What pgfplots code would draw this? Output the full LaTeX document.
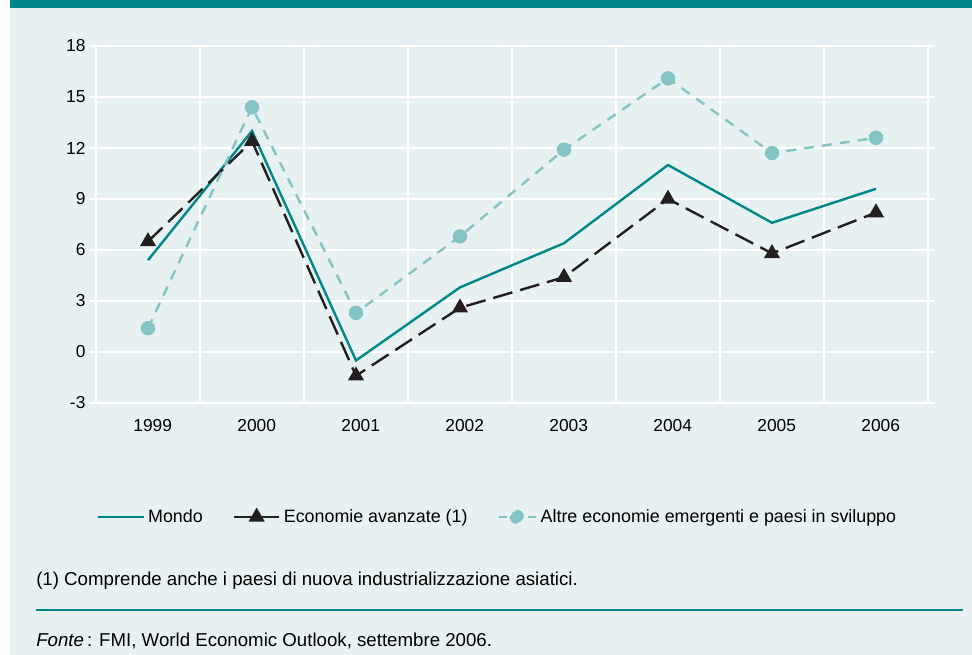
\documentclass[border=0pt]{standalone}
\usepackage{pgfplots}
\pgfplotsset{compat=1.18}
\usepackage{fontspec}
\setmainfont{Liberation Sans}

\definecolor{bgpanel}{RGB}{232,241,242}
\definecolor{tealdark}{RGB}{0,135,138}
\definecolor{teallight}{RGB}{132,196,196}
\definecolor{inkblack}{RGB}{35,31,32}

% data: x = position of the year (1999 at 0.5)
\pgfplotstableread{
x    mondo  avanz  altre
0.5  5.4    6.5    1.4
1.5  13.0   12.4   14.4
2.5  -0.5   -1.4   2.3
3.5  3.8    2.6    6.8
4.5  6.4    4.4    11.9
5.5  11.0   9.0    16.1
6.5  7.6    5.8    11.7
7.5  9.6    8.2    12.6
}\growth

\begin{document}
\fontsize{12.75}{15}\selectfont
\begin{tikzpicture}[x=0.75pt,y=0.75pt]
% page background
\fill[white] (0,0) rectangle (972,655);
\fill[bgpanel] (10,0) rectangle (972,647);
\fill[tealdark] (10,647) rectangle (972,655);

\begin{axis}[
    at={(72pt,189pt)}, anchor=south west,
    scale only axis,
    width=624pt, height=267.75pt,
    xmin=0, xmax=8,
    ymin=-3, ymax=18,
    xtick={0.5,1.5,...,7.5},
    xticklabels={1999,2000,2001,2002,2003,2004,2005,2006},
    minor xtick={1,...,7},
    ytick={-3,0,...,18},
    yticklabels={-3,0,3,6,9,12,15,18},
    xminorgrids, ymajorgrids,
    minor grid style={white, line width=0.8pt},
    major grid style={white, line width=0.8pt},
    axis line style={white, line width=1.2pt},
    axis background/.style={fill=none},
    tick align=outside,
    major tick length=4.5pt,
    minor tick length=0pt,
    xtick style={draw=none},
    ytick style={white, line width=0.8pt},
    xticklabel style={font=\fontsize{13}{15}\selectfont, yshift=-3pt, xshift=3.5pt},
    yticklabel style={font=\fontsize{13}{15}\selectfont, xshift=1pt},
    legend columns=3,
    legend style={at={(rel axis cs:0.001,-0.319)}, anchor=west,
        draw=none, fill=none, inner sep=0pt,
        font=\fontsize{13.4}{15}\selectfont,
        nodes={inner xsep=2.5pt},
        /tikz/every even column/.append style={column sep=20pt}},
    legend cell align=left,
    clip=false,
]
\addplot[tealdark, line width=1.8pt, no markers,
    legend image code/.code={\draw[tealdark, line width=1.8pt] (0pt,0pt) -- (34pt,0pt);}]
    table[x=x, y=mondo] {\growth};
\addlegendentry{Mondo}

\addplot[inkblack, line width=1.8pt, dash pattern=on 15pt off 6pt,
    mark=triangle*, mark size=5.2pt, mark options={solid, fill=inkblack},
    legend image code/.code={\draw[inkblack, line width=1.8pt] (0pt,0pt) -- (34pt,0pt);
        \draw[fill=inkblack, draw=inkblack] plot[mark=triangle*, mark size=5.2pt] coordinates {(17pt,0pt)};}]
    table[x=x, y=avanz] {\growth};
\addlegendentry{Economie avanzate (1)}

\addplot[teallight, line width=1.8pt, dash pattern=on 7.5pt off 6pt,
    mark=*, mark size=4.5pt, mark options={solid, fill=teallight, draw=teallight},
    legend image code/.code={\draw[teallight, line width=1.8pt, dash pattern=on 6pt off 5pt] (0pt,0pt) -- (28pt,0pt);
        \fill[teallight] (13.5pt,0pt) circle (4.5pt);}]
    table[x=x, y=altre] {\growth};
\addlegendentry{Altre economie emergenti e paesi in sviluppo}
\end{axis}

% footnote, rule and source
\node[anchor=base west, inner sep=0pt, font=\fontsize{14}{16}\selectfont] at (36,69)
    {(1) Comprende anche i paesi di nuova industrializzazione asiatici.};
\draw[tealdark, line width=1.1pt] (36,45) -- (963,45);
\node[anchor=base west, inner sep=0pt, font=\fontsize{14}{16}\selectfont] at (36,8)
    {\textit{Fonte}\,: FMI, World Economic Outlook, settembre 2006.};
\end{tikzpicture}
\end{document}
